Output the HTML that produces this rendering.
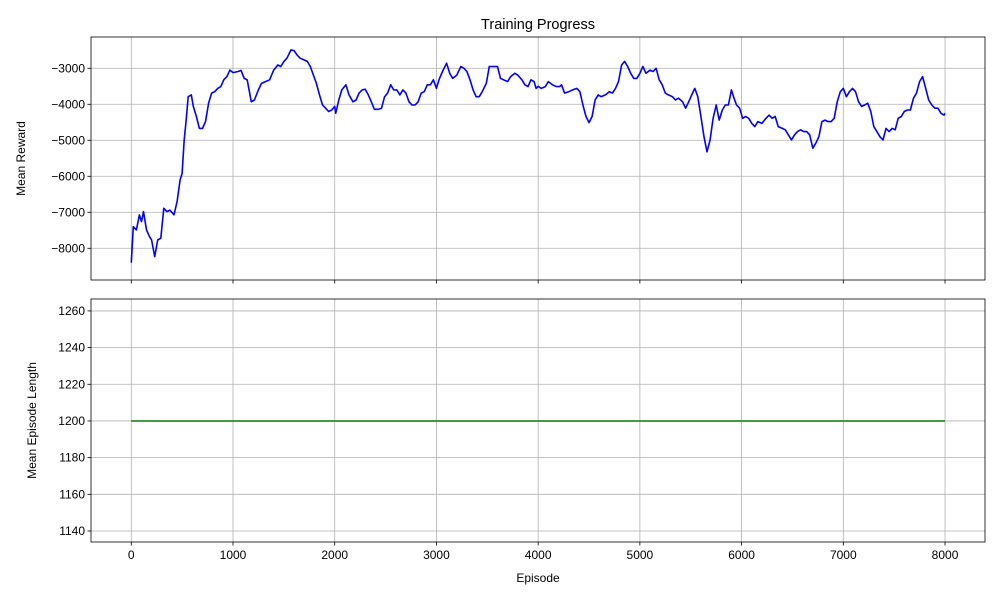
<!DOCTYPE html>
<html><head><meta charset="utf-8"><style>
html,body{margin:0;padding:0;background:#fff}
svg text{font-family:"Liberation Sans","DejaVu Sans",sans-serif;fill:#000}
</style></head><body>
<svg id="chart" width="1000" height="600" xmlns="http://www.w3.org/2000/svg"></svg>
<script>
const episodes = [0,20,50,80,100,120,150,180,200,230,260,290,320,350,380,420,450,480,500,520,540,560,590,610,640,670,700,730,760,790,820,850,880,910,940,970,1000,1050,1080,1110,1140,1180,1210,1250,1280,1320,1360,1400,1440,1470,1500,1530,1570,1600,1630,1660,1700,1730,1760,1790,1820,1850,1880,1910,1940,1970,2000,2010,2040,2070,2110,2140,2180,2210,2240,2270,2300,2330,2360,2390,2430,2460,2490,2520,2550,2580,2610,2640,2670,2700,2730,2760,2790,2820,2850,2880,2910,2940,2970,3000,3030,3060,3100,3130,3160,3200,3240,3270,3300,3330,3360,3390,3420,3450,3490,3520,3560,3600,3630,3660,3700,3730,3770,3800,3840,3870,3900,3930,3960,3980,4000,4030,4070,4100,4140,4180,4210,4230,4260,4300,4340,4380,4410,4440,4470,4500,4530,4560,4590,4620,4660,4700,4730,4760,4790,4820,4850,4880,4910,4940,4970,5000,5030,5060,5100,5130,5160,5190,5220,5250,5280,5320,5350,5380,5420,5450,5480,5510,5540,5570,5600,5630,5660,5690,5720,5750,5780,5810,5840,5870,5900,5920,5950,5980,6010,6040,6070,6100,6130,6160,6200,6240,6270,6300,6330,6360,6400,6430,6460,6490,6520,6550,6580,6610,6640,6670,6700,6730,6760,6790,6820,6850,6880,6910,6940,6970,7000,7030,7060,7090,7120,7150,7180,7210,7240,7270,7300,7330,7360,7390,7420,7450,7480,7510,7540,7570,7600,7630,7660,7690,7720,7750,7780,7810,7840,7870,7900,7930,7960,7990,8000];
const meanReward = [-8400,-7400,-7490,-7074,-7260,-6980,-7490,-7680,-7770,-8230,-7770,-7720,-6890,-6980,-6940,-7070,-6700,-6100,-5920,-4990,-4430,-3790,-3740,-4060,-4340,-4670,-4670,-4480,-3970,-3690,-3650,-3560,-3510,-3320,-3230,-3050,-3120,-3090,-3060,-3280,-3320,-3930,-3880,-3600,-3420,-3370,-3320,-3050,-2910,-2950,-2810,-2720,-2490,-2510,-2630,-2720,-2770,-2810,-2950,-3190,-3420,-3740,-4020,-4110,-4200,-4160,-4060,-4250,-3880,-3600,-3460,-3740,-3930,-3880,-3690,-3600,-3580,-3740,-3930,-4140,-4140,-4110,-3790,-3690,-3460,-3600,-3600,-3740,-3600,-3690,-3930,-4020,-4020,-3930,-3690,-3650,-3460,-3460,-3320,-3560,-3280,-3090,-2860,-3140,-3280,-3190,-2950,-3000,-3090,-3320,-3600,-3790,-3790,-3650,-3420,-2950,-2950,-2950,-3280,-3320,-3370,-3230,-3140,-3190,-3320,-3460,-3510,-3320,-3370,-3560,-3500,-3560,-3510,-3370,-3460,-3510,-3510,-3460,-3690,-3650,-3600,-3560,-3650,-4020,-4340,-4510,-4340,-3880,-3740,-3790,-3740,-3650,-3690,-3560,-3370,-2910,-2810,-2950,-3140,-3280,-3280,-3140,-2950,-3140,-3050,-3090,-3000,-3320,-3460,-3690,-3740,-3790,-3880,-3830,-3930,-4110,-3930,-3740,-3560,-3790,-4340,-4900,-5320,-4990,-4390,-4020,-4440,-4160,-4020,-4020,-3600,-3790,-4020,-4110,-4390,-4340,-4390,-4530,-4620,-4480,-4530,-4390,-4300,-4390,-4340,-4620,-4670,-4710,-4850,-4990,-4850,-4760,-4710,-4760,-4760,-4850,-5220,-5080,-4900,-4480,-4440,-4480,-4480,-4390,-3930,-3650,-3560,-3790,-3650,-3560,-3650,-3930,-4060,-4020,-3970,-4200,-4620,-4760,-4900,-4990,-4670,-4760,-4670,-4710,-4390,-4340,-4200,-4160,-4160,-3830,-3690,-3370,-3230,-3560,-3880,-4020,-4110,-4110,-4250,-4300,-4250];
const lengthEpisodes = [0,8000];
const meanLength = [1200,1200];
const xTicks = [0,1000,2000,3000,4000,5000,6000,7000,8000];
const yTicksReward = [-8000,-7000,-6000,-5000,-4000,-3000];
const yTicksLength = [1140,1160,1180,1200,1220,1240,1260];

const NS='http://www.w3.org/2000/svg';
const svg=document.getElementById('chart');
function mk(tag,attrs,parent){const e=document.createElementNS(NS,tag);for(const k in attrs)e.setAttribute(k,attrs[k]);(parent||svg).appendChild(e);return e;}
const L=91,R=985;
const xs=e=>L+(e-(-396))/(8393-(-396))*(R-L);
function panel(top,bot,ymin,ymax,ticks,fmt,name,label,showX){
  const ys=v=>bot-(v-ymin)/(ymax-ymin)*(bot-top);
  const g=mk('g',{});
  
  
  xTicks.forEach(t=>{const l=mk('line',{x1:xs(t),x2:xs(t),y1:top,y2:bot,stroke:'#b0b0b0','stroke-width':0.8},g);
    
    mk('line',{x1:xs(t),x2:xs(t),y1:bot,y2:bot+3.5,stroke:'#000','stroke-width':0.8},g);
    if(showX){const tx=mk('text',{x:xs(t),y:bot+17,'text-anchor':'middle','font-size':12},g);tx.textContent=t;
      }
  });
  ticks.forEach(t=>{const y=ys(t);const l=mk('line',{x1:L,x2:R,y1:y,y2:y,stroke:'#b0b0b0','stroke-width':0.8},g);
    
    mk('line',{x1:L-3.5,x2:L,y1:y,y2:y,stroke:'#000','stroke-width':0.8},g);
    const tx=mk('text',{x:L-6,y:y+4,'text-anchor':'end','font-size':12},g);tx.textContent=fmt(t);
    
  });
  const yl=mk('text',{x:0,y:0,'text-anchor':'middle','font-size':12,transform:`translate(${name==='reward'?25:36},${(top+bot)/2}) rotate(-90)`},g);
  yl.textContent=label;
  return {g,ys,frame:()=>{const r=mk('rect',{x:L,y:top,width:R-L,height:bot-top,fill:'none',stroke:'#000','stroke-width':0.8},g);}};
}
const p1=panel(37,280,-8881,-2131,yTicksReward,t=>t<0?'\u2212'+Math.abs(t):t,'reward','Mean Reward',false);
let d=episodes.map((e,i)=>(i?'L':'M')+xs(e).toFixed(1)+','+p1.ys(meanReward[i]).toFixed(1)).join('');
const line1=mk('path',{d,fill:'none',stroke:'#0000ff','stroke-width':1.6,'stroke-linejoin':'round'},p1.g);


p1.frame();
const p2=panel(299,542,1134,1266.5,yTicksLength,t=>t,'length','Mean Episode Length',true);
d=lengthEpisodes.map((e,i)=>(i?'L':'M')+xs(e).toFixed(1)+','+p2.ys(meanLength[i]).toFixed(1)).join('');
const line2=mk('path',{d,fill:'none',stroke:'#008000','stroke-width':1.6},p2.g);


p2.frame();
const title=mk('text',{x:538,y:29,'text-anchor':'middle','font-size':14.5});
title.textContent='Training Progress';


const xl=mk('text',{x:538,y:582,'text-anchor':'middle','font-size':12});
xl.textContent='Episode';


</script>
</body></html>
